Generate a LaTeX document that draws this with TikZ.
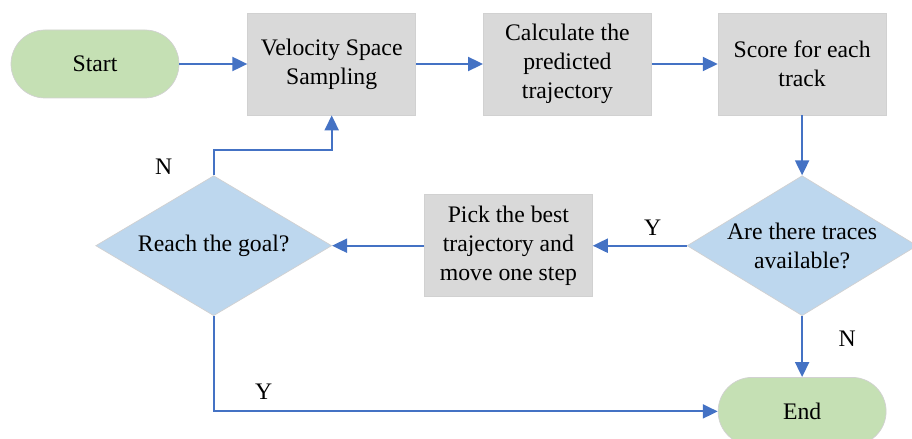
\documentclass[tikz,border=0pt]{standalone}
\usepackage{fontspec}
\setmainfont{Liberation Serif}
\usepackage{tikz}
\usetikzlibrary{arrows.meta,shapes.geometric}
\usetikzlibrary{calc,positioning}
\definecolor{termgreen}{HTML}{C5E0B4}
\definecolor{procgray}{HTML}{D9D9D9}
\definecolor{decblue}{HTML}{BDD7EE}
\definecolor{flowblue}{HTML}{4472C4}

\begin{document}
\begin{tikzpicture}[font=\fontsize{13.5}{16.5}\selectfont,
    terminal/.style={rectangle, rounded corners=0.68cm, draw=black!18, fill=termgreen,
        minimum width=3.36cm, minimum height=1.36cm},
    process/.style={rectangle, draw=black!18, fill=procgray, align=center,
        minimum width=3.36cm, minimum height=2.04cm, inner sep=2pt},
    decision/.style={diamond, draw=black!18, fill=decblue, align=center, aspect=1.63,
        inner sep=0pt, minimum width=4.6cm, minimum height=2.8cm},
    flow/.style={draw=flowblue, line width=1.15pt, -{Triangle[length=0.3cm,width=0.28cm]}},
    lbl/.style={inner sep=0pt}]

    \useasboundingbox (0,0) rectangle (18.24,-8.78);

    \node[terminal] (start) at (1.9,-1.28) {Start};
    \node[process]  (vss)   [right=1.36cm of start] {Velocity Space\\Sampling};
    \node[process]  (calc)  [right=1.34cm of vss] {Calculate the\\predicted\\trajectory};
    \node[process]  (score) [right=1.32cm of calc] {Score for each\\track};
    \node[decision] (avail) [below=1.2cm of score] {Are there traces\\available?};
    \node[terminal] (end)   [below=1.22cm of avail] {End};
    \node[process]  (pick)  [left=1.88cm of avail] {Pick the best\\trajectory and\\move one step};
    \node[decision, minimum width=4.72cm] (goal) [left=1.84cm of pick] {Reach the goal?};

    \path[flow] (start) -- (vss);
    \path[flow] (vss) -- (calc);
    \path[flow] (calc) -- (score);
    \path[flow] (score) -- (avail);
    \path[flow] (avail) -- (pick);
    \path[flow] (pick) -- (goal);
    \path[flow] (avail) -- (end);
    \path[flow] (goal.north) -- ++(0,0.5) -| (vss.south);
    \path[flow] (goal.south) |- (end.west);

    \node[lbl] (n-goal)  at ($(goal.north)+(-1.0,0.18)$) {N};
    \node[lbl] (y-avail) at ($(avail.west)+(-0.68,0.36)$) {Y};
    \node[lbl] (y-goal)  at ($(goal.south |- end.west)+(1.0,0.4)$) {Y};
    \node[lbl] (n-avail) at ($(avail.south)+(0.9,-0.46)$) {N};

\end{tikzpicture}
\end{document}
